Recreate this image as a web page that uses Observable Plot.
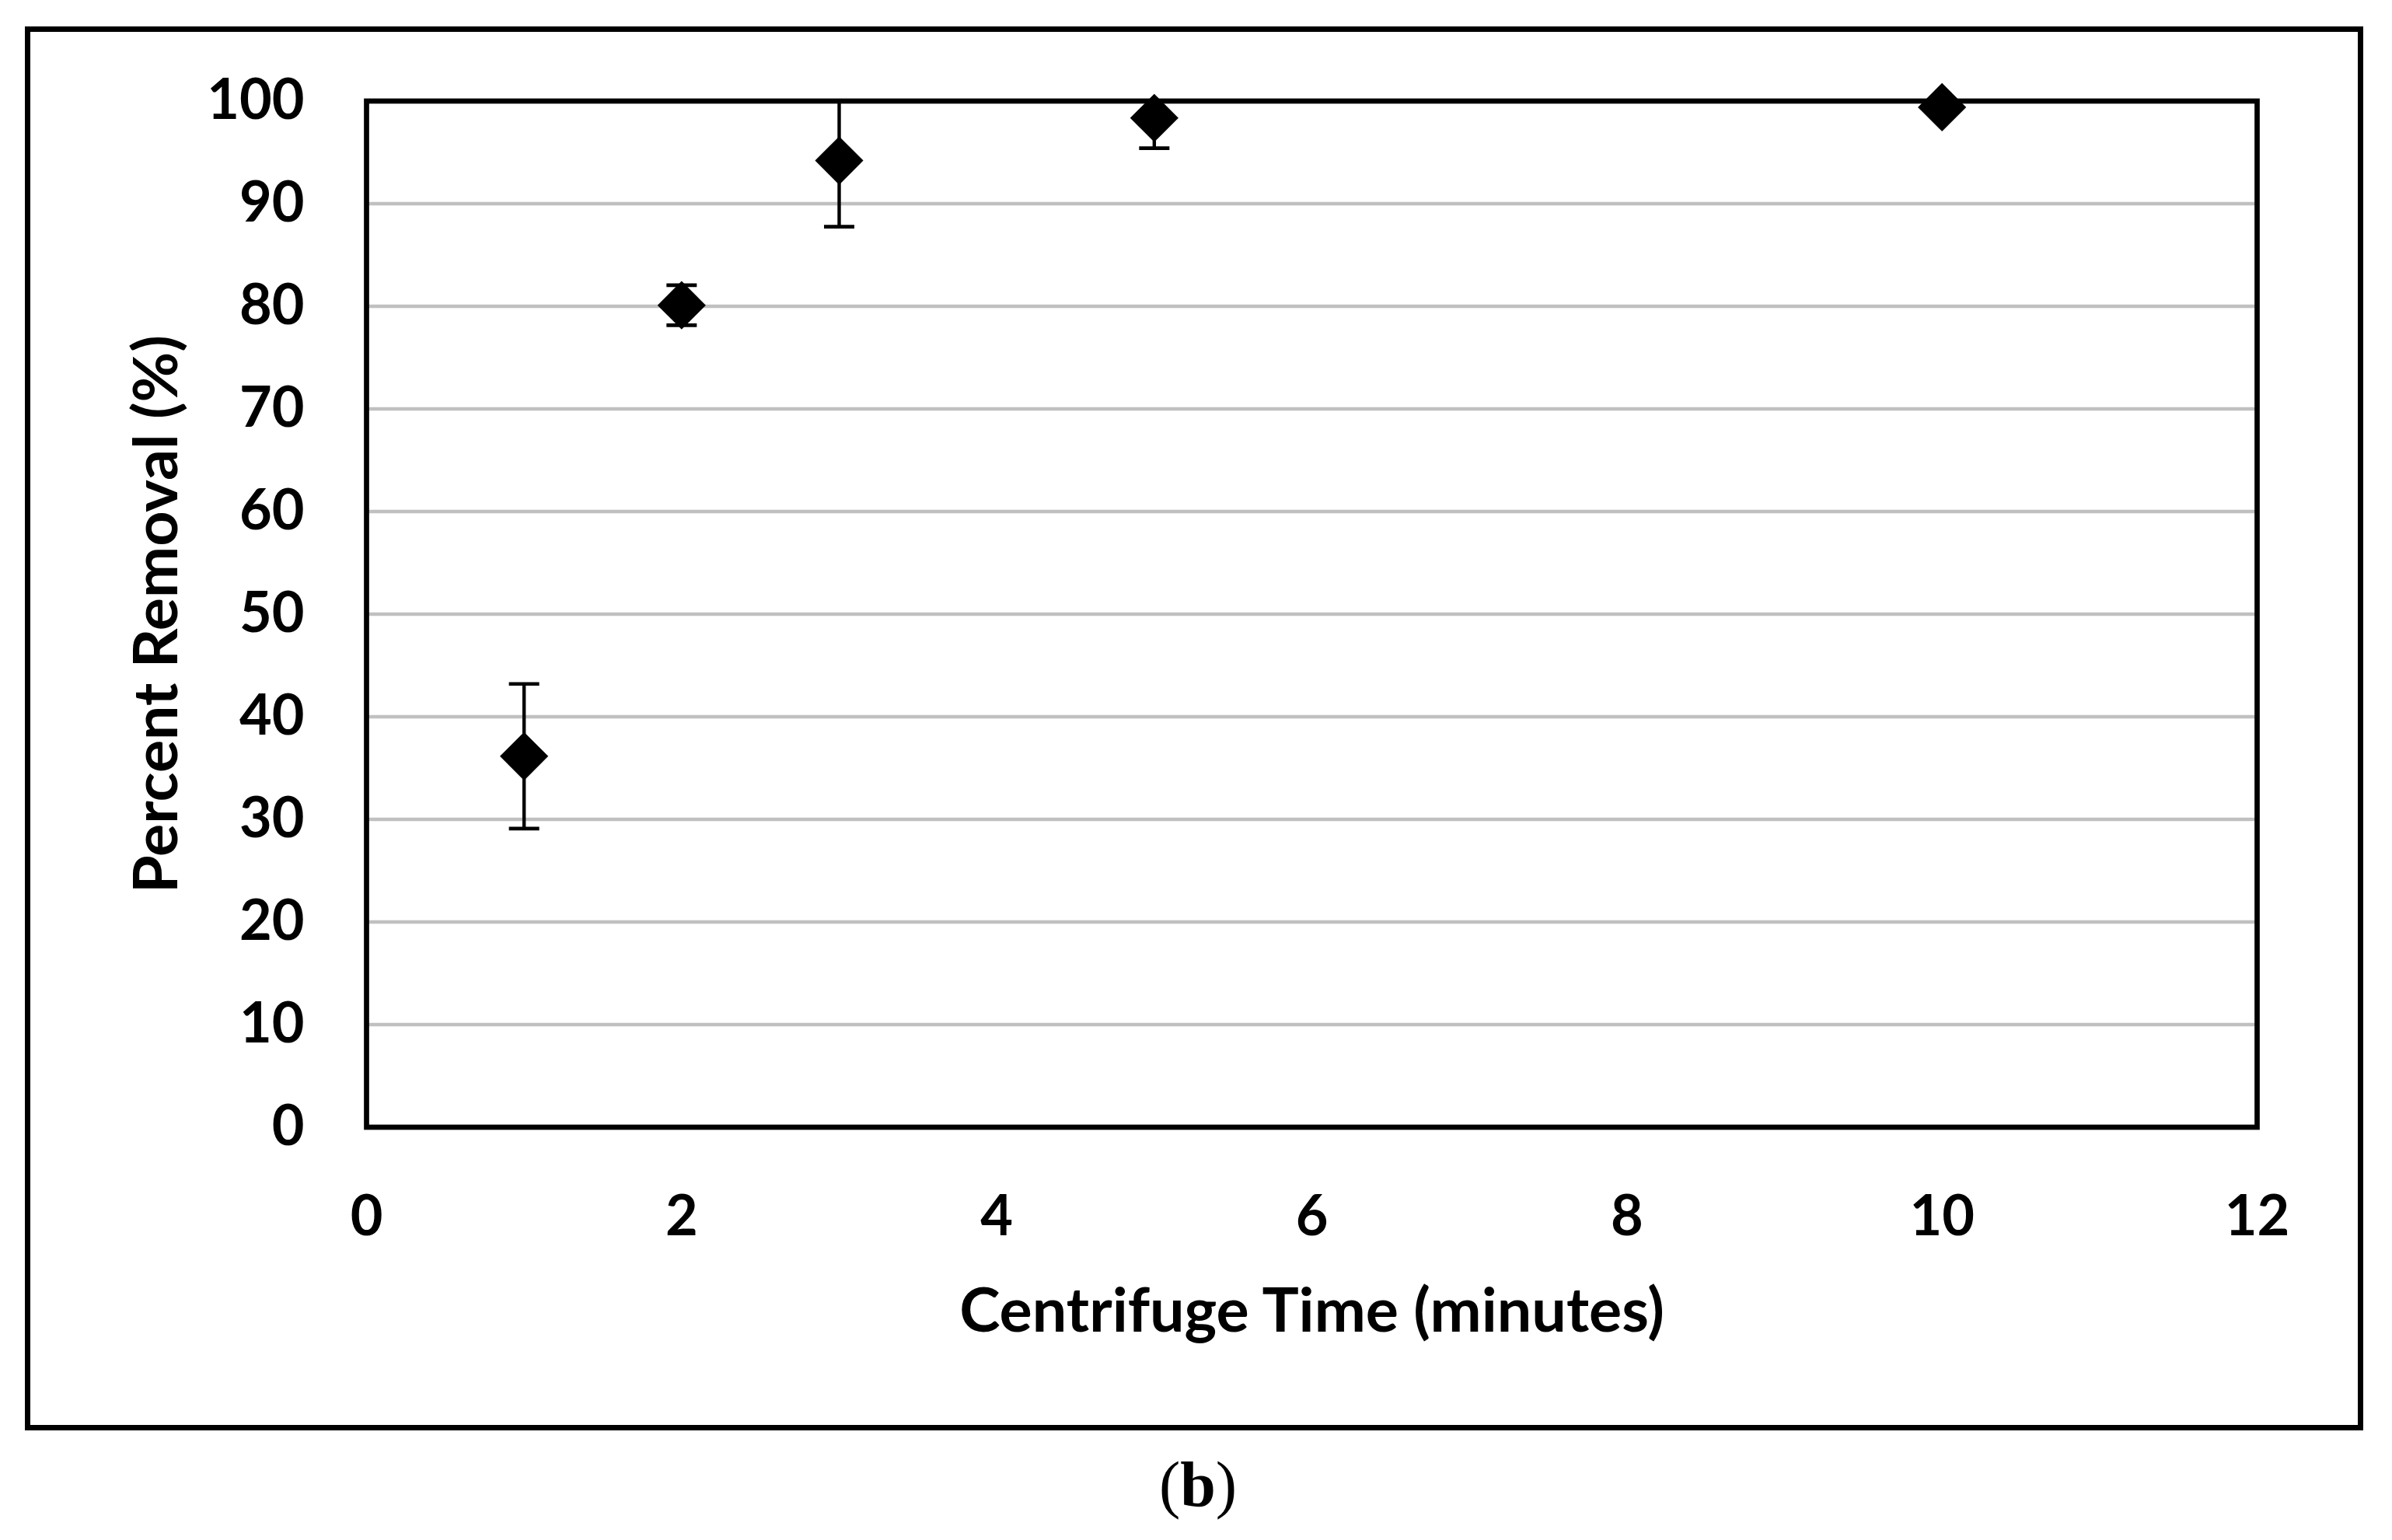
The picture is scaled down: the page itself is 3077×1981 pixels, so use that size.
<!DOCTYPE html>
<html>
<head>
<meta charset="utf-8">
<script src="https://cdn.jsdelivr.net/npm/d3@7"></script>
<script src="https://cdn.jsdelivr.net/npm/@observablehq/plot@0.6"></script>
<style>
  html, body { margin: 0; padding: 0; background: #ffffff; }
  body { width: 3077px; height: 1981px; position: relative; overflow: hidden; }
  #outer { position: absolute; left: 32px; top: 34px; width: 3008px; height: 1806px; border: 7.5px solid #000; box-sizing: border-box; }
  #chart { position: absolute; left: 0; top: 0; }
  #caption { position: absolute; left: 0; top: 1869px; width: 3082px; text-align: center;
             font-family: "Liberation Serif", "DejaVu Serif", serif; font-size: 82px; line-height: 82px; color: #000; }
</style>
</head>
<body>
<div id="outer"></div>
<div id="chart"></div>
<div id="caption">(<b>b</b>)</div>
<script>
// Data
const times   = [1, 2, 3, 5, 10];                 // Centrifuge time (minutes)
const removal = [36.15, 80.1, 94.2, 98.35, 99.4]; // Percent removal (%)
const errors  = [7.05, 1.95, 6.45, 2.95, 0.4];    // error bar half-lengths

const xTicks = [0, 2, 4, 6, 8, 10, 12];
const yTicks = [0, 10, 20, 30, 40, 50, 60, 70, 80, 90, 100];
const gridTicks = [10, 20, 30, 40, 50, 60, 70, 80, 90];

const xTitle = "Centrifuge Time (minutes)";
const yTitle = "Percent Removal (%)";

const data = times.map((t, i) => ({t, v: removal[i], e: errors[i]}));

const W = 3077, H = 1840;
const mTop = 129.5, mBottom = H - 1449.5, mLeft = 471, mRight = W - 2903;

const capSymbol = {
  draw(context, size) {
    const w = Math.sqrt(size);
    context.moveTo(-w / 2, 0);
    context.lineTo(w / 2, 0);
  }
};
const capR = Math.sqrt(39 * 39 / Math.PI);

const font = "Lato, 'Open Sans', sans-serif";

const chart = Plot.plot({
  width: W,
  height: H,
  marginTop: mTop,
  marginBottom: mBottom,
  marginLeft: mLeft,
  marginRight: mRight,
  style: {background: "transparent", maxWidth: "none", fontFamily: font, color: "#000", overflow: "visible"},
  x: {domain: [0, 12]},
  y: {domain: [0, 100]},
  marks: [
    Plot.gridY(gridTicks, {stroke: "#c0c0c0", strokeOpacity: 1, strokeWidth: 4.6}),
    Plot.ruleX(data, {x: "t", y1: d => d.v - d.e, y2: d => d.v + d.e, stroke: "#000", strokeWidth: 4.4, clip: true}),
    Plot.dot(data, {x: "t", y: d => d.v - d.e, symbol: capSymbol, r: capR, stroke: "#000", fill: "none", strokeWidth: 4.7, clip: true}),
    Plot.dot(data, {x: "t", y: d => d.v + d.e, symbol: capSymbol, r: capR, stroke: "#000", fill: "none", strokeWidth: 4.7, clip: true}),
    Plot.frame({stroke: "#000", strokeWidth: 6.7}),
    Plot.dot(data, {x: "t", y: "v", symbol: "diamond2", r: 28, fill: "#000", stroke: "none"}),
    Plot.axisX({ticks: xTicks, tickSize: 0, tickPadding: 88, fontSize: 72, fontWeight: "bold", fontFamily: font, fill: "#000", label: null}),
    Plot.axisY({ticks: yTicks, tickSize: 0, tickPadding: 80, fontSize: 72, fontWeight: "bold", fontFamily: font, fill: "#000", label: null}),
    Plot.text([xTitle], {text: d => d, frameAnchor: "bottom", textAnchor: "middle", lineAnchor: "middle", dy: 238, fontSize: 79, fontWeight: "bold", fontFamily: font, fill: "#000"}),
    Plot.text([yTitle], {text: d => d, frameAnchor: "left", textAnchor: "middle", lineAnchor: "middle", rotate: -90, dx: -269, fontSize: 79, fontWeight: "bold", fontFamily: font, fill: "#000"})
  ]
});
document.getElementById("chart").appendChild(chart);
</script>
</body>
</html>
